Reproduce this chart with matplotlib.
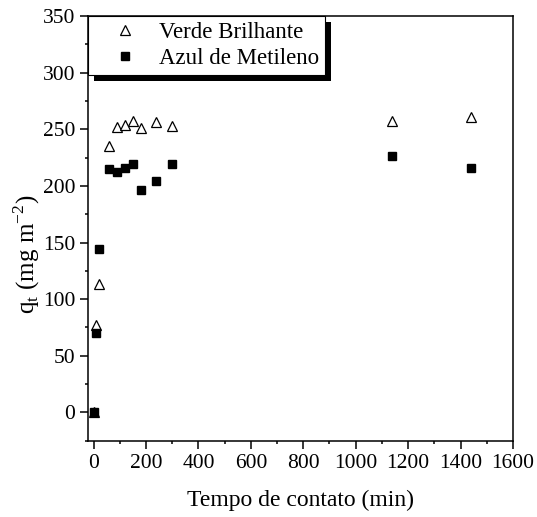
import matplotlib
matplotlib.use("Agg")
import matplotlib.pyplot as plt
from matplotlib.patches import Rectangle
from matplotlib.ticker import MultipleLocator

plt.rcParams['font.family'] = ['Liberation Serif', 'DejaVu Serif']
plt.rcParams['mathtext.fontset'] = 'custom'
plt.rcParams['mathtext.rm'] = 'Liberation Serif'

# contact time (min) and adsorbed amount (mg m-2)
tempo = [0, 10, 20, 60, 90, 120, 150, 180, 240, 300, 1140, 1440]
verde = [0, 77, 113, 235, 252, 254, 257, 251, 256, 253, 257, 261]
azul = [0, 70, 144, 215, 212, 216, 219, 196, 204, 219, 226, 216]


def main():
    fig = plt.figure(figsize=(5.37, 5.17), dpi=100)
    ax = fig.add_axes([0.1644, 0.1476, 0.7909, 0.8214])

    ax.plot(tempo, verde, linestyle='none', marker='^', markersize=7.5,
            markerfacecolor='white', markeredgecolor='black',
            markeredgewidth=0.9, label='Verde Brilhante', zorder=3)
    ax.plot(tempo, azul, linestyle='none', marker='s', markersize=6,
            color='black', label='Azul de Metileno', zorder=3)

    ax.set_xlim(-20, 1600)
    ax.set_ylim(-25, 350)
    ax.xaxis.set_major_locator(MultipleLocator(200))
    ax.xaxis.set_minor_locator(MultipleLocator(100))
    ax.yaxis.set_major_locator(MultipleLocator(50))
    ax.yaxis.set_minor_locator(MultipleLocator(25))
    ax.tick_params(which='major', direction='out', length=5.5, width=1.1,
                   labelsize=15.5, pad=4, top=False, right=False)
    ax.tick_params(which='minor', direction='out', length=2.5, width=1.1,
                   top=False, right=False)
    for s in ax.spines.values():
        s.set_linewidth(1.1)

    ax.set_xlabel('Tempo de contato (min)', fontsize=17, labelpad=12)
    ax.set_ylabel(r'q$_\mathregular{t}$ (mg m$^\mathregular{-2}$)',
                  fontsize=18)
    ax.yaxis.set_label_coords(-0.11, 0.44)

    leg = ax.legend(loc='upper left', bbox_to_anchor=(0.0, 1.0),
                    borderaxespad=0, fancybox=False, framealpha=1,
                    edgecolor='black', fontsize=16.5, handlelength=2.7,
                    handletextpad=0.1, borderpad=0.27, labelspacing=0.2)
    leg.get_frame().set_linewidth(0.8)

    # solid black drop shadow behind the legend box
    fig.canvas.draw()
    bb = leg.get_window_extent().transformed(fig.transFigure.inverted())
    dx, dy = 6 / 537, 6 / 517
    ax.add_patch(Rectangle((bb.x0 + dx, bb.y0 - dy), bb.width, bb.height,
                           transform=fig.transFigure, facecolor='black',
                           edgecolor='none', zorder=4, clip_on=False))

    fig.savefig('out.png', dpi=100)


main()
